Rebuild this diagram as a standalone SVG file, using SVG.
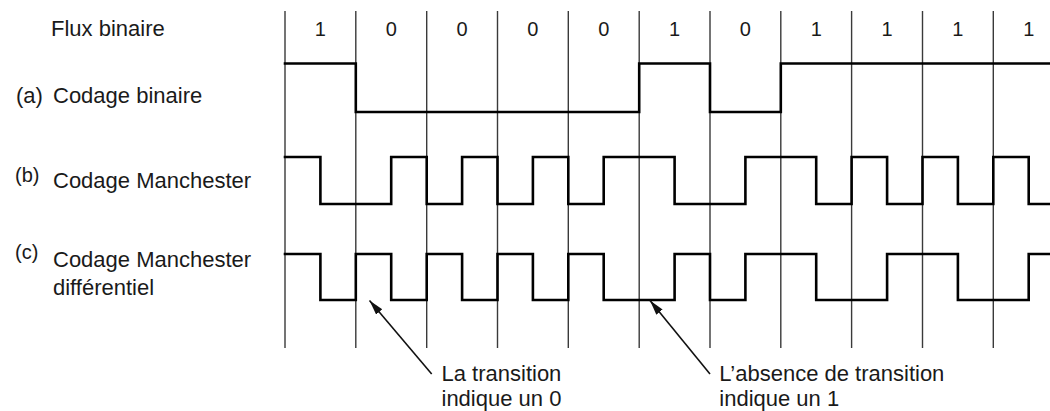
<svg xmlns="http://www.w3.org/2000/svg" width="1050" height="411" viewBox="0 0 1050 411">
  <style>
    .t { font-family: "Liberation Sans", Arial, Helvetica, sans-serif; fill: #1a1a1a; }
    .lbl { font-size: 22px; }
    .tag { font-size: 20px; }
    .bit { font-size: 20px; text-anchor: middle; }
    .grid { stroke: #3a3a3a; stroke-width: 1.4; fill: none; }
    .sig { stroke: #000; stroke-width: 2.6; fill: none; stroke-linejoin: miter; stroke-linecap: square; }
    .arr { stroke: #111; stroke-width: 1.6; fill: none; marker-end: url(#ah); }
  </style>
  <defs>
    <marker id="ah" markerUnits="userSpaceOnUse" markerWidth="16" markerHeight="10" refX="15" refY="4" orient="auto">
      <path d="M0,0 L15,4 L0,8 z" fill="#111"/>
    </marker>
  </defs>
  <rect width="1050" height="411" fill="#fff"/>

  <g id="grid">
    <path class="grid" d="M285,11 V348 M355.8,11 V348 M426.7,11 V348 M497.5,11 V348 M568.3,11 V348 M639.2,11 V348 M710,11 V348 M780.8,11 V348 M851.6,11 V348 M922.5,11 V348 M993.3,11 V348"/>
  </g>

  <g id="bits" class="t bit">
    <text x="320.4" y="35.5">1</text>
    <text x="391.2" y="35.5">0</text>
    <text x="462.1" y="35.5">0</text>
    <text x="532.9" y="35.5">0</text>
    <text x="603.7" y="35.5">0</text>
    <text x="674.6" y="35.5">1</text>
    <text x="745.4" y="35.5">0</text>
    <text x="816.2" y="35.5">1</text>
    <text x="887.1" y="35.5">1</text>
    <text x="957.9" y="35.5">1</text>
    <text x="1028.7" y="35.5">1</text>
  </g>

  <g id="label-flux">
    <text class="t lbl" x="51" y="35.5">Flux binaire</text>
  </g>
  <g id="label-a">
    <text class="t lbl" x="16" y="103">(a)</text>
    <text class="t lbl" x="53" y="103">Codage binaire</text>
  </g>
  <g id="label-b">
    <text class="t tag" x="15" y="182">(b)</text>
    <text class="t lbl" x="53" y="188">Codage Manchester</text>
  </g>
  <g id="label-c">
    <text class="t tag" x="15" y="259">(c)</text>
    <text class="t lbl" x="53" y="267">Codage Manchester</text>
    <text class="t lbl" x="53" y="294.5">différentiel</text>
  </g>

  <g id="signal-a">
    <path class="sig" d="M285,63.5 H355.8 V112 H639.2 V63.5 H710 V112 H780.8 V63.5 H1050"/>
  </g>
  <g id="signal-b">
    <path class="sig" d="M285,157 H320.4 V204 H391.2 V157 H426.7 V204 H462.1 V157 H497.5 V204 H532.9 V157 H568.3 V204 H603.7 V157 H674.6 V204 H745.4 V157 H816.2 V204 H851.6 V157 H887.1 V204 H922.5 V157 H957.9 V204 H993.3 V157 H1028.7 V204 H1050"/>
  </g>
  <g id="signal-c">
    <path class="sig" d="M285,254 H320.4 V300 H355.8 V254 H391.2 V300 H426.7 V254 H462.1 V300 H497.5 V254 H532.9 V300 H568.3 V254 H603.7 V300 H674.6 V254 H710 V300 H745.4 V254 H816.2 V300 H887.1 V254 H957.9 V300 H1028.7 V254 H1050"/>
  </g>

  <g id="connectors">
    <line class="arr" x1="431.7" y1="374" x2="369.5" y2="300.5"/>
    <line class="arr" x1="710" y1="374" x2="650" y2="300.5"/>
  </g>

  <g id="note-transition">
    <text class="t lbl" x="441.5" y="380.5">La transition</text>
    <text class="t lbl" x="441.5" y="406">indique un 0</text>
  </g>
  <g id="note-absence">
    <text class="t lbl" x="719.3" y="380.5">L’absence de transition</text>
    <text class="t lbl" x="719.3" y="406">indique un 1</text>
  </g>
</svg>
